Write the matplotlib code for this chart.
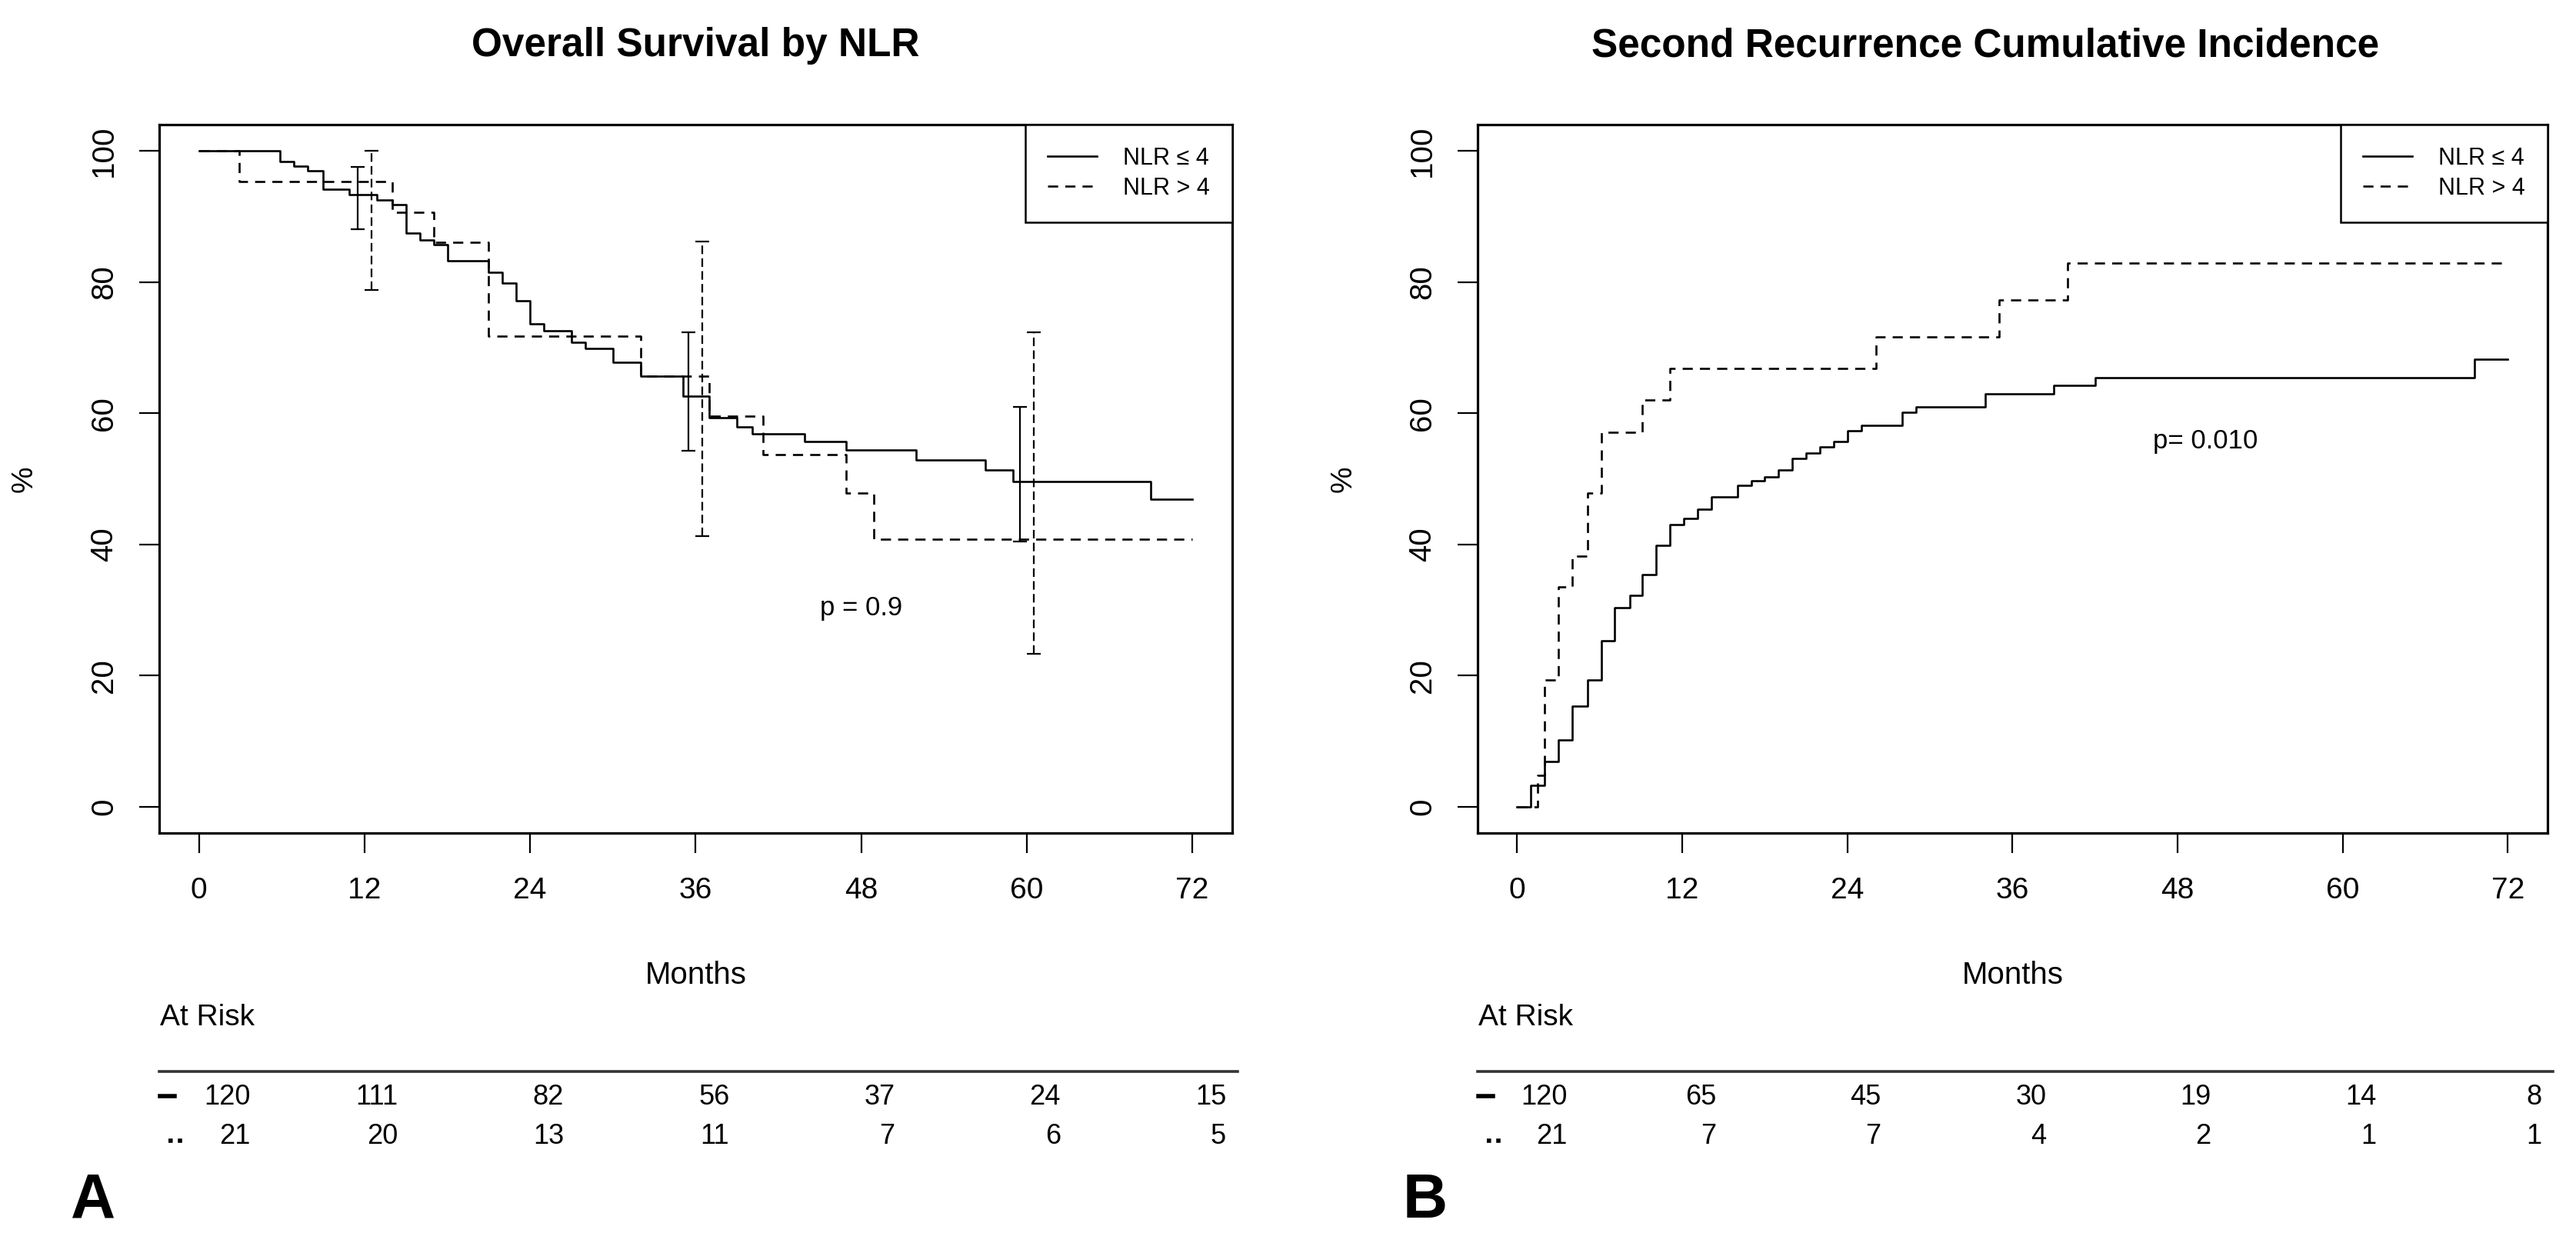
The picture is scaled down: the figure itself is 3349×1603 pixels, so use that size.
import matplotlib.pyplot as plt
import numpy as np
from matplotlib.lines import Line2D
from matplotlib.transforms import blended_transform_factory

plt.rcParams['font.family'] = ['Liberation Sans', 'DejaVu Sans']

month_ticks = [0, 12, 24, 36, 48, 60, 72]
pct_ticks = [0, 20, 40, 60, 80, 100]
group_labels = ["NLR \u2264 4", "NLR > 4"]

# A: overall survival (%)
os_low_t = [0, 5.9, 6.9, 7.9, 9.0, 10.9, 12.9, 14.0, 15.0, 16.0, 17.0, 18.0, 21.0, 22.0, 23.0,
            24.0, 25.0, 27.0, 28.0, 30.0, 32.0, 35.1, 37.0, 39.0, 40.1, 43.9, 46.9, 52.0, 57.0,
            59.0, 69.0, 72.0]
os_low_s = [100, 98.4, 97.7, 96.9, 94.1, 93.3, 92.5, 91.8, 87.4, 86.4, 85.7, 83.2, 81.5, 79.8, 77.1,
            73.6, 72.6, 70.8, 69.9, 67.8, 65.7, 62.6, 59.3, 57.9, 56.8, 55.7, 54.4, 52.9, 51.3,
            49.6, 46.9, 46.9]
os_high_t = [0, 2.9, 14.0, 17.0, 21.0, 32.0, 37.0, 40.9, 46.9, 48.9, 72.0]
os_high_s = [100, 95.3, 90.6, 86.0, 71.7, 65.6, 59.5, 53.7, 47.8, 40.8, 40.8]

ci_times = [12, 36, 60]
os_low_ci_lo = [88.0, 54.3, 40.4]
os_low_ci_hi = [97.5, 72.3, 61.0]
os_high_ci_lo = [78.8, 41.3, 23.3]
os_high_ci_hi = [100.0, 86.2, 72.3]

# B: second recurrence cumulative incidence (%)
rec_low_t = [0, 1.0, 2.0, 3.0, 4.0, 5.1, 6.1, 7.1, 8.2, 9.1, 10.1, 11.1, 12.1, 13.1, 14.1, 16.0,
             17.0, 18.0, 19.0, 20.0, 21.0, 22.0, 23.0, 24.0, 25.0, 28.0, 29.0, 34.0, 39.0, 42.0,
             69.6, 72.0]
rec_low_s = [0, 3.3, 6.9, 10.2, 15.3, 19.3, 25.3, 30.3, 32.2, 35.4, 39.9, 43.0, 43.9, 45.4, 47.2, 49.0,
             49.7, 50.3, 51.3, 53.1, 53.9, 54.9, 55.7, 57.3, 58.1, 60.1, 61.0, 63.0, 64.2, 65.4,
             68.2, 68.2]
rec_high_t = [0, 1.5, 2.0, 3.0, 4.0, 5.1, 6.1, 9.1, 11.1, 26.1, 35.0, 40.0, 72.0]
rec_high_s = [0, 4.8, 19.3, 33.5, 38.2, 47.8, 57.1, 62.0, 66.8, 71.6, 77.3, 82.9, 82.9]

risk_os_low = [120, 111, 82, 56, 37, 24, 15]
risk_os_high = [21, 20, 13, 11, 7, 6, 5]
risk_rec_low = [120, 65, 45, 30, 19, 14, 8]
risk_rec_high = [21, 7, 7, 4, 2, 1, 1]

dash = (0, (5, 3.5))
lw = 1.9


def draw_ci(ax, t, lo, hi, shift, ls):
    t = np.array(t) + shift
    lo = np.array(lo)
    hi = np.array(hi)
    eb = ax.errorbar(t, (lo + hi) / 2, yerr=(hi - lo) / 2, fmt='none', ecolor='black',
                     elinewidth=1.6, capsize=6.5, capthick=1.6)
    eb[2][0].set_linestyle(ls)


def style(ax):
    ax.set_xlim(-2.88, 74.88)
    ax.set_ylim(-4, 104)
    ax.set_xticks(month_ticks)
    ax.set_yticks(pct_ticks)
    ax.set_yticklabels([str(v) for v in pct_ticks], rotation=90, va='center')
    for s in ax.spines.values():
        s.set_linewidth(2.3)
    ax.tick_params(axis='both', length=19, width=1.6)
    ax.tick_params(axis='x', pad=22, labelsize=28)
    ax.tick_params(axis='y', pad=19, labelsize=29)
    ax.text(-0.1254, 0.5, '%', transform=ax.transAxes, rotation=90, ha='center', va='center',
            fontsize=28)
    ax.text(0.5, -0.201, 'Months', transform=ax.transAxes, ha='center', va='center', fontsize=29)
    handles = [Line2D([], [], color='black', lw=lw),
               Line2D([], [], color='black', lw=lw, linestyle=dash)]
    leg = ax.legend(handles, group_labels, loc='upper right', borderaxespad=0, fancybox=False,
                    framealpha=1, edgecolor='black', fontsize=22, handlelength=2.1,
                    handletextpad=1.1, borderpad=0.95, labelspacing=0.3)
    leg.get_frame().set_linewidth(1.8)


def risk_table(fig, ax, low, high, first_shift):
    tr = blended_transform_factory(ax.transData, fig.transFigure)
    ax.text(-2.85, 0.1747, 'At Risk', transform=tr, ha='left', va='center', fontsize=28)
    ax.add_line(Line2D([-2.9, 75.3], [0.131, 0.131], transform=tr, color='#333333', lw=2.6,
                       clip_on=False))
    ax.add_line(Line2D([-2.85, -1.75], [0.111, 0.111], transform=tr, color='black', lw=4,
                       clip_on=False))
    ax.add_line(Line2D([-2.2, -1.2], [0.075, 0.075], transform=tr, color='black', lw=4,
                       linestyle=(0, (1, 1.2)), clip_on=False))
    for i, m in enumerate(month_ticks):
        off = 2.45 + (first_shift if i == 0 else 0)
        ax.text(m + off, 0.1098, str(low[i]), transform=tr, ha='right', va='center', fontsize=26)
        ax.text(m + off, 0.0786, str(high[i]), transform=tr, ha='right', va='center', fontsize=26)


fig = plt.figure(figsize=(33.49, 16.03), dpi=100)
ax_a = fig.add_axes([0.0618, 0.3244, 0.4165, 0.5746])
ax_b = fig.add_axes([0.5736, 0.3244, 0.4153, 0.5746])

# panel A
ax_a.step(os_low_t, os_low_s, where='post', color='black', lw=lw)
ax_a.step(os_high_t, os_high_s, where='post', color='black', lw=lw, linestyle=dash)
draw_ci(ax_a, ci_times, os_low_ci_lo, os_low_ci_hi, -0.5, '-')
draw_ci(ax_a, ci_times, os_high_ci_lo, os_high_ci_hi, 0.5, (0, (5, 2.5)))
style(ax_a)
ax_a.text(48, 30.3, 'p = 0.9', ha='center', va='center', fontsize=25)
tr_a = blended_transform_factory(ax_a.transData, fig.transFigure)
ax_a.text(36, 0.9626, 'Overall Survival by NLR', transform=tr_a, ha='center', va='center',
          fontsize=37, weight='bold')
risk_table(fig, ax_a, risk_os_low, risk_os_high, 1.3)

# panel B
ax_b.step(rec_low_t, rec_low_s, where='post', color='black', lw=lw)
ax_b.step(rec_high_t, rec_high_s, where='post', color='black', lw=lw, linestyle=dash)
style(ax_b)
ax_b.text(50, 55.7, 'p= 0.010', ha='center', va='center', fontsize=25)
tr_b = blended_transform_factory(ax_b.transData, fig.transFigure)
ax_b.text(34, 0.9626, 'Second Recurrence Cumulative Incidence', transform=tr_b, ha='center',
          va='center', fontsize=37, weight='bold')
risk_table(fig, ax_b, risk_rec_low, risk_rec_high, 1.2)

fig.text(0.0275, 0.0125, 'A', fontsize=58, weight='bold', ha='left', va='baseline')
fig.text(0.5446, 0.0125, 'B', fontsize=58, weight='bold', ha='left', va='baseline')

plt.savefig('out.png', dpi=100)
